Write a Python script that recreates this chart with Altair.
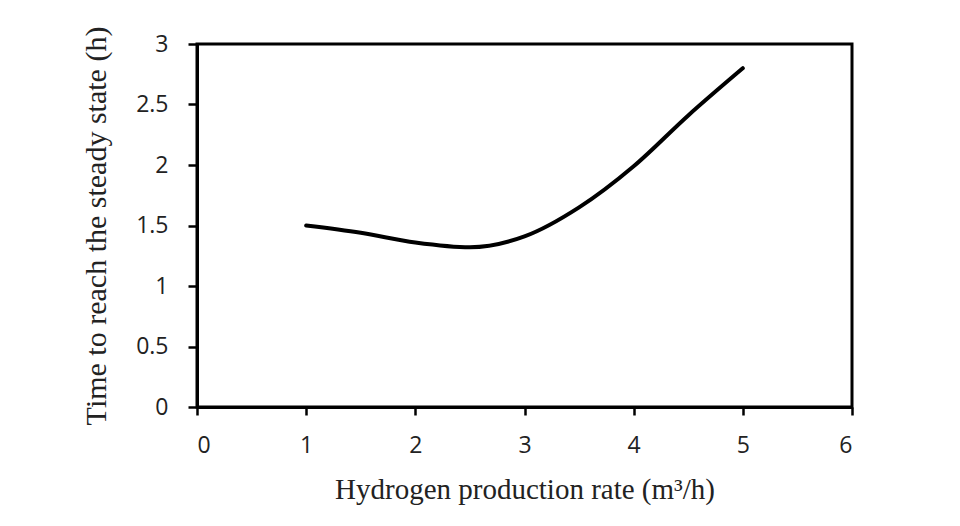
import altair as alt
import pandas as pd

rate = [1, 1.5, 2, 2.5, 3, 3.5, 4, 4.5, 5]
time_h = [1.50, 1.44, 1.36, 1.32, 1.41, 1.65, 1.99, 2.41, 2.80]

df = pd.DataFrame({"rate": rate, "time": time_h})

chart = alt.Chart(df).mark_line(
    color="black", strokeWidth=4, interpolate="monotone", strokeCap="round"
).encode(
    x=alt.X("rate:Q", scale=alt.Scale(domain=[0, 6], nice=False, zero=False),
            axis=alt.Axis(values=[0, 1, 2, 3, 4, 5, 6], format="d",
                          title="Hydrogen production rate (m³/h)",
                          grid=False, tickSize=8, tickWidth=2.5, tickColor="black",
                          domainColor="black", domainWidth=3,
                          labelFont="Open Sans", labelFontSize=23, labelColor="#222",
                          labelPadding=19,
                          titleFont="Liberation Serif", titleFontSize=29,
                          titleFontWeight="normal", titleColor="#222",
                          titlePadding=18)),
    y=alt.Y("time:Q", scale=alt.Scale(domain=[0, 3], nice=False, zero=False),
            axis=alt.Axis(values=[0, 0.5, 1, 1.5, 2, 2.5, 3], format="~g",
                          title="Time to reach the steady state (h)",
                          grid=False, tickSize=9, tickWidth=2.5, tickColor="black",
                          domainColor="black", domainWidth=3,
                          labelFont="Open Sans", labelFontSize=23, labelColor="#222",
                          labelPadding=20,
                          titleFont="Liberation Serif", titleFontSize=30,
                          titleFontWeight="normal", titleColor="#222",
                          titlePadding=24)),
).properties(
    width=655, height=363,
    autosize=alt.AutoSizeParams(type="none"),
    padding={"left": 189, "top": 36, "right": 100, "bottom": 111},
).configure(
    background="white",
    view=alt.ViewConfig(stroke="black", strokeWidth=3),
)

chart.save("out.html", embed_options={"renderer": "svg", "actions": False})
